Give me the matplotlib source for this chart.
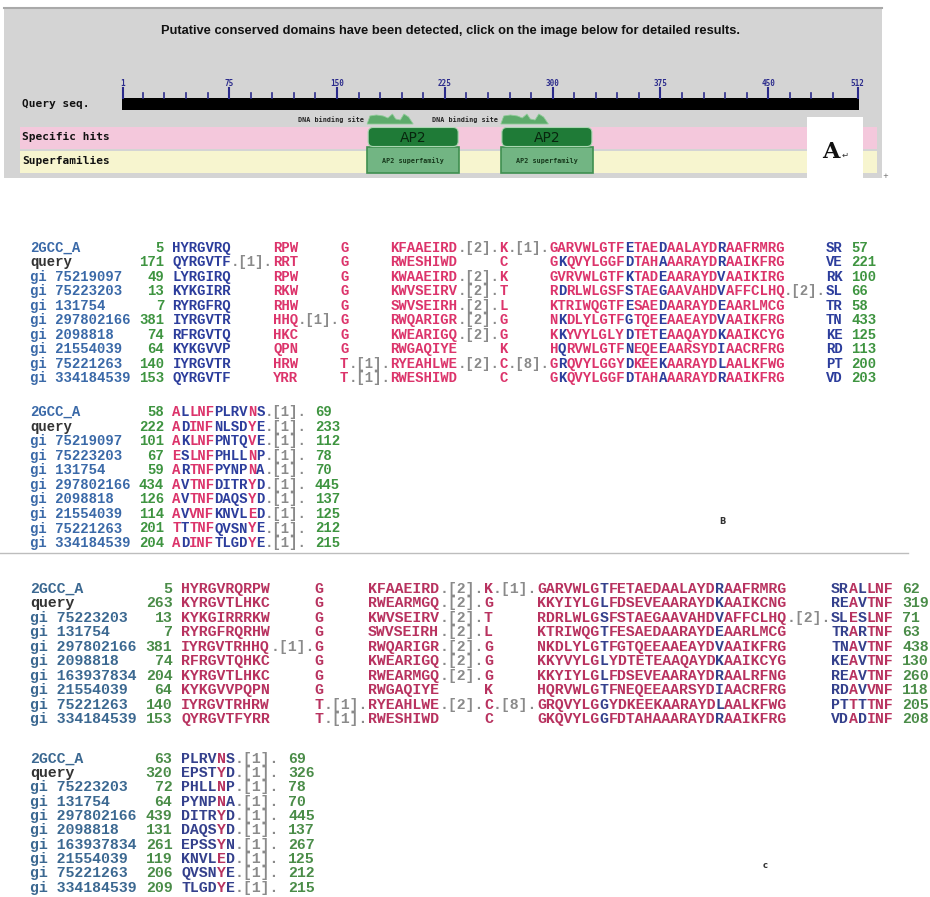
import matplotlib
matplotlib.use('Agg')
import matplotlib.pyplot as plt
from matplotlib.patches import Rectangle, FancyBboxPatch, Polygon

# ---------------- panel A: conserved domain graphic ----------------
query_len = 512
ruler_labels = [1, 75, 150, 225, 300, 375, 450, 512]
minor_ticks = list(range(15, 500, 15))
site_spans = [(171, 203), (264, 297)]
ap2_spans = [(171, 235), (264, 328)]
track_labels = ['Query seq.', 'Specific hits', 'Superfamilies']
title = 'Putative conserved domains have been detected, click on the image below for detailed results.'

# ---------------- alignment B ----------------
names_b = ['2GCC_A', 'query', 'gi 75219097', 'gi 75223203', 'gi 131754',
           'gi 297802166', 'gi 2098818', 'gi 21554039', 'gi 75221263', 'gi 334184539']
b1_start = [5, 171, 49, 13, 7, 381, 74, 64, 140, 153]
b1_end = [57, 221, 100, 66, 58, 433, 125, 113, 200, 203]
b1_seq = [
    'HYRGVRQ     RPW     G     KFAAEIRD.[2].K.[1].GARVWLGTFETAEDAALAYDRAAFRMRG     SR',
    'QYRGVTF.[1].RRT     G     RWESHIWD     C     GKQVYLGGFDTAHAAARAYDRAAIKFRG     VE',
    'LYRGIRQ     RPW     G     KWAAEIRD.[2].K     GVRVWLGTFKTADEAARAYDVAAIKIRG     RK',
    'KYKGIRR     RKW     G     KWVSEIRV.[2].T     RDRLWLGSFSTAEGAAVAHDVAFFCLHQ.[2].SL',
    'RYRGFRQ     RHW     G     SWVSEIRH.[2].L     KTRIWQGTFESAEDAARAYDEAARLMCG     TR',
    'IYRGVTR     HHQ.[1].G     RWQARIGR.[2].G     NKDLYLGTFGTQEEAAEAYDVAAIKFRG     TN',
    'RFRGVTQ     HKC     G     KWEARIGQ.[2].G     KKYVYLGLYDTETEAAQAYDKAAIKCYG     KE',
    'KYKGVVP     QPN     G     RWGAQIYE     K     HQRVWLGTFNEQEEAARSYDIAACRFRG     RD',
    'IYRGVTR     HRW     T.[1].RYEAHLWE.[2].C.[8].GRQVYLGGYDKEEKAARAYDLAALKFWG     PT',
    'QYRGVTF     YRR     T.[1].RWESHIWD     C     GKQVYLGGFDTAHAAARAYDRAAIKFRG     VD',
]
b1_blue = [0, 1, 2, 3, 4, 5, 6, 54, 58, 65, 78, 79]
b1_blue_rows = [1, 3, 5, 6, 7, 8, 9]      # rows where column 46 is blue too

b2_start = [58, 222, 101, 67, 59, 434, 126, 114, 201, 204]
b2_end = [69, 233, 112, 78, 70, 445, 137, 125, 212, 215]
b2_seq = ['ALLNFPLRVNS.[1].', 'ADINFNLSDYE.[1].', 'AKLNFPNTQVE.[1].', 'ESLNFPHLLNP.[1].',
          'ARTNFPYNPNA.[1].', 'AVTNFDITRYD.[1].', 'AVTNFDAQSYD.[1].', 'AVVNFKNVLED.[1].',
          'TTTNFQVSNYE.[1].', 'ADINFTLGDYE.[1].']
b2_blue = [1, 5, 6, 7, 8, 10]

# ---------------- alignment C ----------------
names_c = ['2GCC_A', 'query', 'gi 75223203', 'gi 131754', 'gi 297802166',
           'gi 2098818', 'gi 163937834', 'gi 21554039', 'gi 75221263', 'gi 334184539']
c1_start = [5, 263, 13, 7, 381, 74, 204, 64, 140, 153]
c1_end = [62, 319, 71, 63, 438, 130, 260, 118, 205, 208]
c1_seq = [
    'HYRGVRQRPW     G     KFAAEIRD.[2].K.[1].GARVWLGTFETAEDAALAYDRAAFRMRG     SRALLNF',
    'KYRGVTLHKC     G     RWEARMGQ.[2].G     KKYIYLGLFDSEVEAARAYDKAAIKCNG     REAVTNF',
    'KYKGIRRRKW     G     KWVSEIRV.[2].T     RDRLWLGSFSTAEGAAVAHDVAFFCLHQ.[2].SLESLNF',
    'RYRGFRQRHW     G     SWVSEIRH.[2].L     KTRIWQGTFESAEDAARAYDEAARLMCG     TRARTNF',
    'IYRGVTRHHQ.[1].G     RWQARIGR.[2].G     NKDLYLGTFGTQEEAAEAYDVAAIKFRG     TNAVTNF',
    'RFRGVTQHKC     G     KWEARIGQ.[2].G     KKYVYLGLYDTETEAAQAYDKAAIKCYG     KEAVTNF',
    'KYRGVTLHKC     G     RWEARMGQ.[2].G     KKYIYLGLFDSEVEAARAYDRAALRFNG     REAVTNF',
    'KYKGVVPQPN     G     RWGAQIYE     K     HQRVWLGTFNEQEEAARSYDIAACRFRG     RDAVVNF',
    'IYRGVTRHRW     T.[1].RYEAHLWE.[2].C.[8].GRQVYLGGYDKEEKAARAYDLAALKFWG     PTTTTNF',
    'QYRGVTFYRR     T.[1].RWESHIWD     C     GKQVYLGGFDTAHAAARAYDRAAIKFRG     VDADINF',
]
c1_blue = [47, 60, 73, 74, 76]

c2_start = [63, 320, 72, 64, 439, 131, 261, 119, 206, 209]
c2_end = [69, 326, 78, 70, 445, 137, 267, 125, 212, 215]
c2_seq = ['PLRVNS.[1].', 'EPSTYD.[1].', 'PHLLNP.[1].', 'PYNPNA.[1].', 'DITRYD.[1].',
          'DAQSYD.[1].', 'EPSSYN.[1].', 'KNVLED.[1].', 'QVSNYE.[1].', 'TLGDYE.[1].']
c2_blue = [0, 1, 2, 3, 5]

MONO = 'Liberation Mono'
GREY = '#8a8a8a'


def rx(p):
    return 122.7 + (p - 1) * (857.5 - 122.7) / (query_len - 1)


def draw_block(ax, names, starts, seqs, ends, y0, dy, pitch, blue_of, pal):
    fs = pitch / 0.6 * 0.72
    for i in range(len(names)):
        y = y0 + i * dy + 4.6
        runs = [(0, names[i], pal['query'] if names[i] == 'query' else pal['name'])]
        s = str(starts[i])
        runs.append((16 - len(s), s, pal['num']))
        cur_col, cur_txt, cur_c = None, '', None
        for c, ch in enumerate(seqs[i]):
            if ch == ' ':
                color = None
            elif ch in '.[]0123456789':
                color = GREY
            else:
                color = pal['blue'] if blue_of(i, c) else pal['red']
            if color != cur_c:
                if cur_c is not None:
                    runs.append((cur_col, cur_txt, cur_c))
                cur_col, cur_txt, cur_c = 17 + c, '', color
            if color is not None:
                cur_txt += ch
        if cur_c is not None:
            runs.append((cur_col, cur_txt, cur_c))
        runs.append((18 + len(seqs[i]), str(ends[i]), pal['num']))
        for col, txt, color in runs:
            ax.text(30 + col * pitch, y, txt, color=color, fontsize=fs, family=MONO,
                    weight='bold', ha='left', va='baseline')


fig = plt.figure(figsize=(9.3, 8.97), dpi=100)
ax = fig.add_axes([0, 0, 1, 1])
ax.set_xlim(0, 930)
ax.set_ylim(897, 0)
ax.axis('off')

# grey frame
ax.add_patch(Rectangle((4, 8), 878, 170, fc='#d4d4d4', ec='none'))
ax.plot([4, 882], [8.5, 8.5], color='#a9a9a9', lw=1.5)
ax.text(450, 31, title, ha='center', va='center', fontsize=9.3, weight='bold',
        family='Liberation Sans', color='#111111')

# track bands
ax.add_patch(Rectangle((20, 127), 857, 22, fc='#f4c8dc', ec='none'))
ax.add_patch(Rectangle((20, 151), 857, 22, fc='#f7f5cf', ec='none'))
for lab, ty in zip(track_labels, [104, 137, 161]):
    ax.text(22, ty, lab, ha='left', va='center', fontsize=8, weight='bold',
            family='DejaVu Sans Mono', color='#111111')

# ruler
ax.add_patch(Rectangle((rx(1) - 1, 98), rx(query_len) - rx(1) + 2, 12, fc='black', ec='none'))
for p in minor_ticks:
    ax.plot([rx(p), rx(p)], [93, 98], color='#2b2b8c', lw=1.2)
for p in ruler_labels:
    ax.plot([rx(p), rx(p)], [88, 98], color='#2b2b8c', lw=1.5)
    ax.text(rx(p), 84, str(p), ha='center', va='center', fontsize=5.5, weight='bold',
            family='DejaVu Sans Mono', color='#2b2b8c')

# DNA binding site marks
fr = [0, 0.06, 0.2, 0.35, 0.45, 0.55, 0.62, 0.72, 0.8, 0.9, 1.0]
hh = [124, 116, 115, 116, 118, 114, 119, 120, 114, 117, 124]
for a, b in site_spans:
    x1, x2 = rx(a), rx(b)
    pts = [(x1 + f * (x2 - x1), h) for f, h in zip(fr, hh)]
    ax.add_patch(Polygon(pts, closed=True, fc='#5dab6b', ec='#8fcc98', lw=0.6))
    ax.text(x1 - 3, 119.5, 'DNA binding site', ha='right', va='center', fontsize=4.9,
            weight='bold', family='DejaVu Sans Mono', color='#222222')

# AP2 hits and superfamily boxes
for a, b in ap2_spans:
    x1, x2 = rx(a), rx(b)
    ax.add_patch(Rectangle((x1, 147), x2 - x1, 26, fc='#72b583', ec='#3f8f50', lw=1.2))
    ax.add_patch(FancyBboxPatch((x1 + 1, 127.5), x2 - x1 - 2, 19,
                                boxstyle='round,pad=0,rounding_size=5',
                                fc='#1f7b37', ec='#a9d7b1', lw=0.8))
    ax.text((x1 + x2) / 2, 137.5, 'AP2', ha='center', va='center', fontsize=10,
            family='DejaVu Sans', color='#08260e')
    ax.text((x1 + x2) / 2, 161, 'AP2 superfamily', ha='center', va='center', fontsize=4.9,
            weight='bold', family='DejaVu Sans Mono', color='#17391c')

# panel label A
ax.add_patch(Rectangle((807, 117), 56, 63, fc='white', ec='none'))
ax.text(831, 152, 'A', ha='center', va='center', fontsize=16, weight='bold',
        family='DejaVu Serif', color='#111111')
ax.text(845, 155, '\u21b5', ha='center', va='center', fontsize=6, family='DejaVu Sans',
        color='#333333')
ax.text(885, 176, '+', ha='center', va='center', fontsize=5, color='#666666')

pal_b = {'name': '#3a69a8', 'query': '#333333', 'num': '#3e9440',
         'red': '#dc346b', 'blue': '#2c3d9c'}
pal_c = {'name': '#3b6891', 'query': '#333333', 'num': '#4a8c48',
         'red': '#b8325f', 'blue': '#34408c'}

draw_block(ax, names_b, b1_start, b1_seq, b1_end, 247, 14.5, 8.38,
           lambda i, c: c in b1_blue or (c == 46 and i in b1_blue_rows), pal_b)
draw_block(ax, names_b, b2_start, b2_seq, b2_end, 411.5, 14.55, 8.38,
           lambda i, c: c in b2_blue, pal_b)
ax.text(722, 521, 'B', ha='center', va='center', fontsize=6, weight='bold', color='#333333')
ax.plot([0, 908], [553, 553], color='#bdbdbd', lw=1)

draw_block(ax, names_c, c1_start, c1_seq, c1_end, 588, 14.5, 8.9,
           lambda i, c: c in c1_blue, pal_c)
draw_block(ax, names_c, c2_start, c2_seq, c2_end, 758, 14.35, 8.9,
           lambda i, c: c in c2_blue, pal_c)
ax.text(765, 866, 'c', ha='center', va='center', fontsize=6, weight='bold', color='#333333')

fig.savefig('out.png', dpi=100)
